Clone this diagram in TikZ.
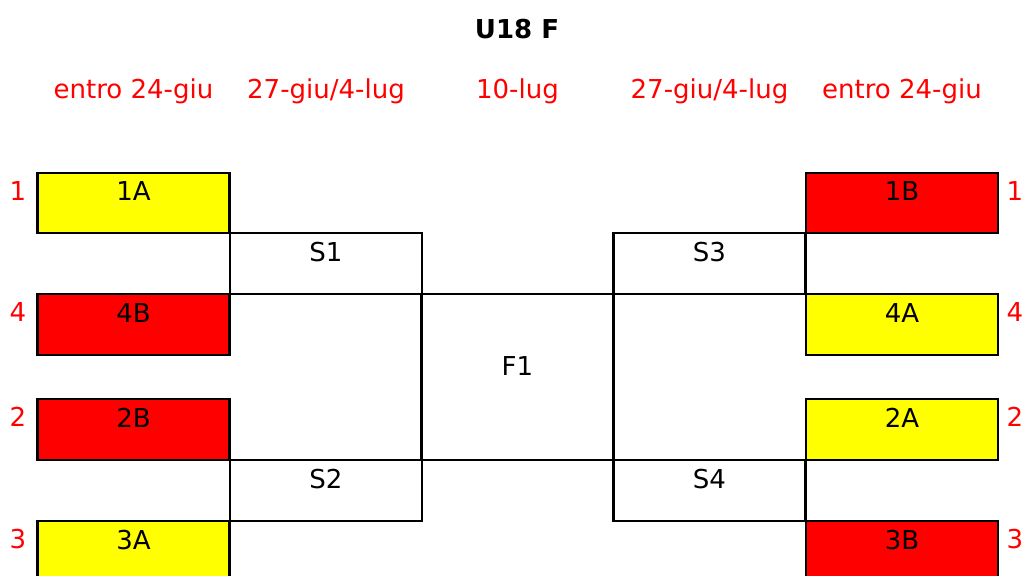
\documentclass[tikz,border=0pt]{standalone}
\usepackage{fontspec}
\setmainfont{DejaVu Sans}
\usetikzlibrary{positioning}
\definecolor{teamyellow}{RGB}{255,255,0}
\definecolor{teamred}{RGB}{255,0,0}

\begin{document}
\begin{tikzpicture}[
    x=0.025cm,y=-0.025cm,
    every node/.style={font=\fontsize{18.5}{20}\selectfont},
    cell/.style={rectangle,draw=black,line width=1.5pt,inner sep=0pt,minimum width=4.8cm,text height=0.7cm,text depth=0.82cm},
    teamA/.style={cell,fill=teamyellow},
    teamB/.style={cell,fill=teamred},
    datehead/.style={text=teamred,anchor=base},
    seed/.style={text=teamred,anchor=base}
  ]
    \clip (0,0) rectangle (1027,576);

    \node[anchor=base,font=\fontsize{18.5}{20}\selectfont\bfseries] (title) at (517,39) {U18 F};
    \node[datehead] (d1) at (133.5,99) {entro 24-giu};
    \node[datehead] (d2) at (326,99) {27-giu/4-lug};
    \node[datehead] (d3) at (517.5,99) {10-lug};
    \node[datehead] (d4) at (709.5,99) {27-giu/4-lug};
    \node[datehead] (d5) at (902,99) {entro 24-giu};

    % left side
    \node[teamA,text depth=0.8cm] (a1) at (133.5,203) {1A};
    \node[teamB] (b4) at (133.5,324.5) {4B};
    \node[teamB] (b2) at (133.5,429.5) {2B};
    \node[teamA] (a3) at (133.5,551.5) {3A};
    \node[cell] (s1) at (326,263.5) {S1};
    \node[cell] (s2) at (326,490.5) {S2};

    % final
    \node[cell,text height=2.05cm,text depth=2.1cm] (f1) at (517.5,377) {F1};

    % right side
    \node[teamB,text depth=0.8cm] (b1) at (902,203) {1B};
    \node[teamA] (a4) at (902,324.5) {4A};
    \node[teamA] (a2) at (902,429.5) {2A};
    \node[teamB] (b3) at (902,551.5) {3B};
    \node[cell] (s3) at (709.5,263.5) {S3};
    \node[cell] (s4) at (709.5,490.5) {S4};

    % seeds
    \node[seed] (l1) at (18,201) {1};
    \node[seed] (l4) at (18,322) {4};
    \node[seed] (l2) at (18,427) {2};
    \node[seed] (l3) at (18,549) {3};
    \node[seed] (r1) at (1015,201) {1};
    \node[seed] (r4) at (1015,322) {4};
    \node[seed] (r2) at (1015,427) {2};
    \node[seed] (r3) at (1015,549) {3};
  \end{tikzpicture}
\end{document}
